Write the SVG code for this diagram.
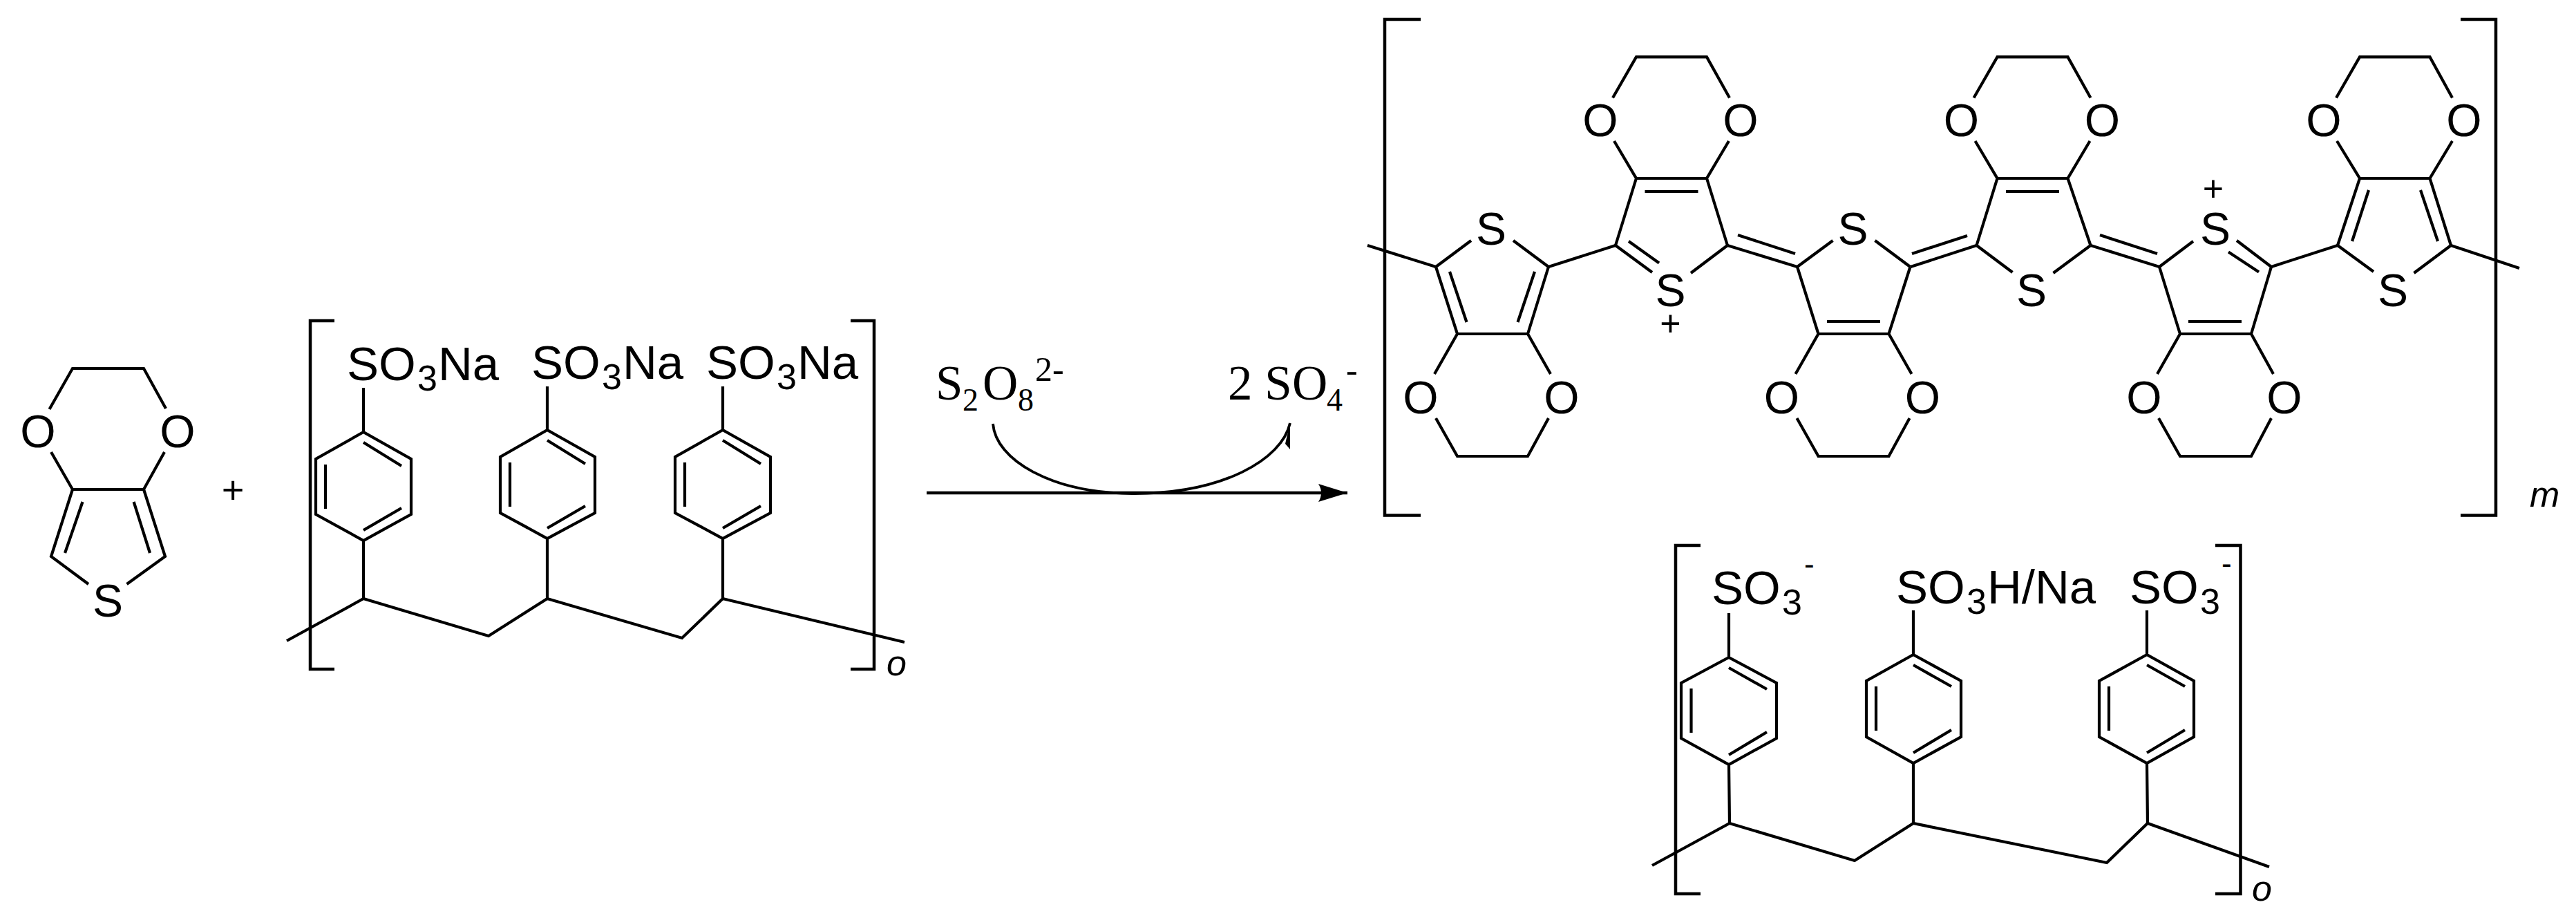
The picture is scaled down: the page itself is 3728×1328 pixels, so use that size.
<svg xmlns="http://www.w3.org/2000/svg" width="3728" height="1328" viewBox="0 0 3728 1328">
<style>
.b{fill:none;stroke:#000;stroke-width:4.2;stroke-linecap:butt;stroke-linejoin:miter}
.br{fill:none;stroke:#000;stroke-width:4.5;stroke-linecap:butt;stroke-linejoin:miter}
.a{font-family:"Liberation Sans",Arial,sans-serif;font-size:66px;fill:#000;text-anchor:middle}
.l{font-family:"Liberation Sans",Arial,sans-serif;font-size:69px;fill:#000}
.sub{font-size:52px}
.sup{font-size:44px}
.i{font-family:"Liberation Sans",Arial,sans-serif;font-size:52px;font-style:italic;fill:#000}
.p{font-family:"Liberation Sans",Arial,sans-serif;font-size:52px;fill:#000;text-anchor:middle}
.t{font-family:"Liberation Serif","Times New Roman",serif;font-size:71px;fill:#000}
.ts{font-size:46px}
.tp{font-size:50px}
.arr{fill:none;stroke:#000;stroke-width:4.5}
.thin{fill:none;stroke:#000;stroke-width:3.8}
</style>
<rect width="3728" height="1328" fill="#fff"/>
<defs>
<marker id="head" markerUnits="userSpaceOnUse" markerWidth="46" markerHeight="30" refX="44" refY="15" orient="auto"><path d="M2 2 L44 15 L2 28 Q10 15 2 2 Z" fill="#000"/></marker>
</defs>

<g id="edot">
<path class="b" d="M71.5 592 L105 533 H208 L240 591 M74 654 L105 708 H208 L238 654 M105 708 L74 805 L128 845 M208 708 L239 805 L183.500 845 M119.500 726 L94 800 M193.600 726 L217 800"/>
<text class="a" x="55" y="647">O</text><text class="a" x="257" y="647">O</text><text class="a" x="156" y="892">S</text>
</g>
<g id="plus"><text class="p" style="font-size:56px" x="337" y="728">+</text></g>

<g id="pss">
<path class="br" d="M484 464 H449 V968 H484 M1231 464 H1265 V968 H1231"/>
<path class="b" d="M415 927 L526 866 L707 920 L792 866 L987 923 L1046 866 L1309 929"/>
<path class="b" d="M526 561 V625 L595 664 V744 L526 782 L457 744 V664 L526 625 M526 640 L581 674 M471 672 V736 M581 735 L526 767 M526 782 V866"/>
<path class="b" d="M792 559 V622 L861 661 V742 L792 779 L724 742 V661 L792 622 M792 637 L847 671 M738 669 V733 M847 732 L792 764 M792 779 V866"/>
<path class="b" d="M1046 559 V622 L1115 661 V742 L1046 779 L977 742 V661 L1046 622 M1046 637 L1101 671 M991 669 V733 M1101 732 L1046 764 M1046 779 V866"/>
<text class="l" x="502" y="550">SO<tspan class="sub" x="604" dy="15">3</tspan><tspan x="634" dy="-15">Na</tspan></text>
<text class="l" x="769" y="548">SO<tspan class="sub" x="871" dy="15">3</tspan><tspan x="901" dy="-15">Na</tspan></text>
<text class="l" x="1022" y="548">SO<tspan class="sub" x="1124" dy="15">3</tspan><tspan x="1154" dy="-15">Na</tspan></text>
<text class="i" x="1283" y="977">o</text>
</g>

<g id="oxidant"><text class="t" x="1354" y="578">S<tspan class="ts" x="1393" dy="16">2</tspan><tspan x="1422" dy="-16">O</tspan><tspan class="ts" x="1473" dy="16">8</tspan><tspan class="tp" x="1498" dy="-43">2-</tspan></text></g>
<g id="sulfate"><text class="t" x="1777" y="578">2 S<tspan x="1870">O</tspan><tspan class="ts" x="1920" dy="16">4</tspan><tspan class="tp" x="1948" dy="-42">-</tspan></text></g>

<g id="connectors">
<path class="arr" d="M1341 713 H1950" marker-end="url(#head)"/>
<path class="thin" d="M1437 613 C1441 665 1520 713 1640 714 C1770 714 1855 665 1867 612"/>
<path d="M1867 612 V650 L1860 642 Z" fill="#000"/>
<path class="b" d="M1979 355 L2078 386 M2241 386 L2338 355 M2500 355 L2601 386 M2515 340 L2598 367 M2765 386 L2860.500 355 M2767 367 L2847 341 M3025.500 355 L3125 386 M3039 340 L3122 367 M3287 386 L3383 355 M3547 355 L3646 388"/>
</g>

<g id="pedot-bracket"><path class="br" d="M2056 28 H2004 V745.500 H2056 M3561 28 H3612 V745.500 H3561"/><text class="i" x="3661" y="733">m</text></g>

<g id="unit1" transform="translate(2160 0)">
<path class="b" d="M-82 386 L-31 348 M81 386 L30 348 M-82 386 L-51 483 H51 L81 386 M-62 393 L-37.500 466 M61 393 L36.500 466 M-51 483 L-84 541 M51 483 L84 541 M-82 605 L-51 660 H51 L81 605"/>
<text class="a" x="-2" y="354">S</text><text class="a" x="-104" y="598">O</text><text class="a" x="100" y="598">O</text>
</g>
<g id="unit2" transform="translate(2419 0)">
<path class="b" d="M-81 355 L-28 394 M81 355 L28 395 M-81 355 L-51 258 H51 L81 355 M-38.500 277 H38.500 M-62 349 L-18 380.500 M-51 258 L-83 204 M51 258 L83 204 M-85 141.500 L-51 82.400 H51 L84 141.500"/>
<text class="a" x="-1.500" y="443">S</text><text class="a" x="-103" y="197">O</text><text class="a" x="100" y="197">O</text><text class="p" x="-1.500" y="486">+</text>
</g>
<g id="unit3" transform="translate(2682.500 0)">
<path class="b" d="M-81.500 386 L-30 348 M82 386 L31 348 M-81.500 386 L-51 483 H51 L82 386 M-38.500 465 H38.500 M-51 483 L-84 541 M51 483 L84 541 M-82 605 L-51 660 H51 L81 605"/>
<text class="a" x="-1" y="354">S</text><text class="a" x="-104" y="598">O</text><text class="a" x="100" y="598">O</text>
</g>
<g id="unit4" transform="translate(2941.500 0)">
<path class="b" d="M-81 355 L-29 394 M84 355 L30 395 M-81 355 L-51 258 H51 L84 355 M-38.500 277 H38.500 M-51 258 L-83 204 M51 258 L83 204 M-85 141.500 L-51 82.400 H51 L84 141.500"/>
<text class="a" x="-1.500" y="443">S</text><text class="a" x="-103" y="197">O</text><text class="a" x="101" y="197">O</text>
</g>
<g id="unit5" transform="translate(3205 0)">
<path class="b" d="M-80 386 L-31 349 M82 386 L32 348 M-80 386 L-50 483 H53 L82 386 M64 393.600 L20 364.500 M-38 465 H39 M-50 483 L-83 541 M53 483 L85 541 M-81 605 L-50 660 H53 L82 605"/>
<text class="a" x="1" y="354">S</text><text class="a" x="-102" y="598">O</text><text class="a" x="101" y="598">O</text><text class="p" x="-2" y="291">+</text>
</g>
<g id="unit6" transform="translate(3465 0)">
<path class="b" d="M-82 355 L-30 393 M82 355 L28.500 395 M-82 355 L-50 258 H51.500 L82 355 M-37 275 L-61 349 M38 275 L63 349 M-50 258 L-83 204 M51.500 258 L84 204 M-84 141.500 L-50 82.400 H51.500 L84 141.500"/>
<text class="a" x="-2" y="443">S</text><text class="a" x="-102" y="197">O</text><text class="a" x="101" y="197">O</text>
</g>

<g id="pss-doped">
<path class="br" d="M2461 789 H2425 V1293 H2461 M3206 789 H3242.500 V1293 H3206"/>
<path class="b" d="M2391 1252 L2503 1191 L2684 1245 L2769 1191 L3049 1248 L3108 1191 L3284 1254"/>
<path class="b" d="M2502 887 V951 L2571 988 V1068 L2502 1106 L2433 1068 V988 L2502 951 M2502 966 L2557 997 M2447.500 996 V1060 M2557 1059 L2502 1092 M2502 1106 L2503 1191"/>
<path class="b" d="M2769 883 V947 L2838 985 V1066 L2769 1104 L2701 1066 V985 L2769 947 M2769 962 L2824 993 M2715 993 V1057 M2824 1056 L2769 1089 M2769 1104 V1191"/>
<path class="b" d="M3107 883 V947 L3175 985 V1066 L3107 1104 L3038 1066 V985 L3107 947 M3107 962 L3162 993 M3052 993 V1057 M3162 1056 L3107 1089 M3107 1104 L3108 1191"/>
<text class="l" x="2477" y="874">SO<tspan class="sub" x="2579" dy="15">3</tspan><tspan class="sup" x="2611" dy="-58">-</tspan></text>
<text class="l" x="2744" y="873">SO<tspan class="sub" x="2846" dy="15">3</tspan><tspan x="2876" dy="-15">H/Na</tspan></text>
<text class="l" x="3082" y="873">SO<tspan class="sub" x="3184" dy="15">3</tspan><tspan class="sup" x="3215" dy="-58">-</tspan></text>
<text class="i" x="3259" y="1303">o</text>
</g>
</svg>
